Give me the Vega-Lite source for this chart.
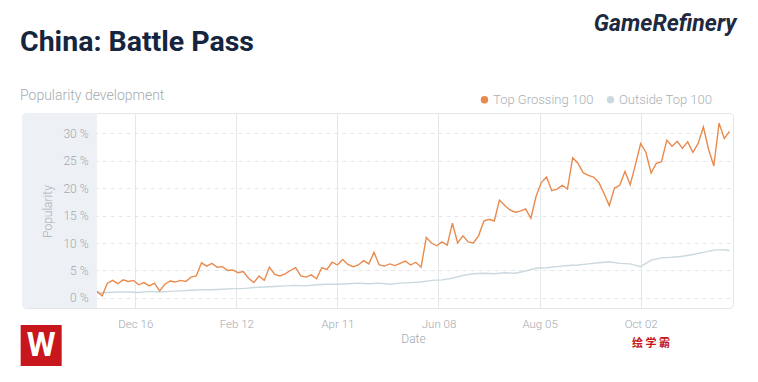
{
  "$schema": "https://vega.github.io/schema/vega-lite/v6.json",
  "width": 711,
  "height": 195,
  "autosize": {"type": "none"},
  "padding": {"left": 22, "top": 113, "right": 25, "bottom": 74},
  "background": "#ffffff",
  "config": {"font": "Roboto", "view": {"stroke": "#e2e6e9", "cornerRadius": 4}},
  "title": {
    "text": "China: Battle Pass",
    "subtitle": "Popularity development",
    "anchor": "start",
    "frame": "group",
    "orient": "top",
    "font": "Roboto",
    "fontSize": 28.5,
    "fontWeight": "bold",
    "color": "#15253e",
    "subtitleFont": "Roboto",
    "subtitleFontSize": 14,
    "subtitleFontWeight": 300,
    "subtitleColor": "#a5abb0",
    "subtitlePadding": 33,
    "offset": 9,
    "dx": -2,
    "dy": 99
  },
  "datasets": {
    "series": [
      {"date": "2018-11-24", "series": "Outside Top 100", "value": 0.9},
      {"date": "2018-11-30", "series": "Outside Top 100", "value": 1.0},
      {"date": "2018-12-06", "series": "Outside Top 100", "value": 1.1},
      {"date": "2018-12-12", "series": "Outside Top 100", "value": 1.1},
      {"date": "2018-12-18", "series": "Outside Top 100", "value": 1.0},
      {"date": "2018-12-24", "series": "Outside Top 100", "value": 1.2},
      {"date": "2018-12-30", "series": "Outside Top 100", "value": 1.1},
      {"date": "2019-01-05", "series": "Outside Top 100", "value": 1.2},
      {"date": "2019-01-11", "series": "Outside Top 100", "value": 1.3},
      {"date": "2019-01-17", "series": "Outside Top 100", "value": 1.4},
      {"date": "2019-01-23", "series": "Outside Top 100", "value": 1.5},
      {"date": "2019-01-29", "series": "Outside Top 100", "value": 1.5},
      {"date": "2019-02-04", "series": "Outside Top 100", "value": 1.6},
      {"date": "2019-02-10", "series": "Outside Top 100", "value": 1.7},
      {"date": "2019-02-16", "series": "Outside Top 100", "value": 1.7},
      {"date": "2019-02-22", "series": "Outside Top 100", "value": 1.9},
      {"date": "2019-02-28", "series": "Outside Top 100", "value": 2.0},
      {"date": "2019-03-06", "series": "Outside Top 100", "value": 2.1},
      {"date": "2019-03-12", "series": "Outside Top 100", "value": 2.2},
      {"date": "2019-03-18", "series": "Outside Top 100", "value": 2.3},
      {"date": "2019-03-24", "series": "Outside Top 100", "value": 2.2},
      {"date": "2019-03-30", "series": "Outside Top 100", "value": 2.4},
      {"date": "2019-04-05", "series": "Outside Top 100", "value": 2.5},
      {"date": "2019-04-11", "series": "Outside Top 100", "value": 2.5},
      {"date": "2019-04-17", "series": "Outside Top 100", "value": 2.6},
      {"date": "2019-04-23", "series": "Outside Top 100", "value": 2.7},
      {"date": "2019-04-29", "series": "Outside Top 100", "value": 2.6},
      {"date": "2019-05-05", "series": "Outside Top 100", "value": 2.7},
      {"date": "2019-05-11", "series": "Outside Top 100", "value": 2.5},
      {"date": "2019-05-17", "series": "Outside Top 100", "value": 2.7},
      {"date": "2019-05-23", "series": "Outside Top 100", "value": 2.8},
      {"date": "2019-05-29", "series": "Outside Top 100", "value": 2.9},
      {"date": "2019-06-04", "series": "Outside Top 100", "value": 3.2},
      {"date": "2019-06-10", "series": "Outside Top 100", "value": 3.3},
      {"date": "2019-06-16", "series": "Outside Top 100", "value": 3.6},
      {"date": "2019-06-22", "series": "Outside Top 100", "value": 4.1},
      {"date": "2019-06-28", "series": "Outside Top 100", "value": 4.4},
      {"date": "2019-07-04", "series": "Outside Top 100", "value": 4.5},
      {"date": "2019-07-10", "series": "Outside Top 100", "value": 4.4},
      {"date": "2019-07-16", "series": "Outside Top 100", "value": 4.6},
      {"date": "2019-07-22", "series": "Outside Top 100", "value": 4.5},
      {"date": "2019-07-28", "series": "Outside Top 100", "value": 4.9},
      {"date": "2019-08-03", "series": "Outside Top 100", "value": 5.4},
      {"date": "2019-08-09", "series": "Outside Top 100", "value": 5.5},
      {"date": "2019-08-15", "series": "Outside Top 100", "value": 5.7},
      {"date": "2019-08-21", "series": "Outside Top 100", "value": 5.9},
      {"date": "2019-08-27", "series": "Outside Top 100", "value": 6.0},
      {"date": "2019-09-02", "series": "Outside Top 100", "value": 6.2},
      {"date": "2019-09-08", "series": "Outside Top 100", "value": 6.4},
      {"date": "2019-09-14", "series": "Outside Top 100", "value": 6.6},
      {"date": "2019-09-20", "series": "Outside Top 100", "value": 6.3},
      {"date": "2019-09-26", "series": "Outside Top 100", "value": 6.2},
      {"date": "2019-10-02", "series": "Outside Top 100", "value": 5.7},
      {"date": "2019-10-08", "series": "Outside Top 100", "value": 6.9},
      {"date": "2019-10-14", "series": "Outside Top 100", "value": 7.3},
      {"date": "2019-10-20", "series": "Outside Top 100", "value": 7.4},
      {"date": "2019-10-26", "series": "Outside Top 100", "value": 7.6},
      {"date": "2019-11-01", "series": "Outside Top 100", "value": 7.9},
      {"date": "2019-11-07", "series": "Outside Top 100", "value": 8.3},
      {"date": "2019-11-13", "series": "Outside Top 100", "value": 8.7},
      {"date": "2019-11-19", "series": "Outside Top 100", "value": 8.8},
      {"date": "2019-11-22", "series": "Outside Top 100", "value": 8.6},
      {"date": "2018-11-24", "series": "Top Grossing 100", "value": 1.2},
      {"date": "2018-11-27", "series": "Top Grossing 100", "value": 0.4},
      {"date": "2018-11-30", "series": "Top Grossing 100", "value": 2.7},
      {"date": "2018-12-03", "series": "Top Grossing 100", "value": 3.2},
      {"date": "2018-12-06", "series": "Top Grossing 100", "value": 2.6},
      {"date": "2018-12-09", "series": "Top Grossing 100", "value": 3.3},
      {"date": "2018-12-12", "series": "Top Grossing 100", "value": 3.0},
      {"date": "2018-12-15", "series": "Top Grossing 100", "value": 3.2},
      {"date": "2018-12-18", "series": "Top Grossing 100", "value": 2.4},
      {"date": "2018-12-21", "series": "Top Grossing 100", "value": 2.8},
      {"date": "2018-12-24", "series": "Top Grossing 100", "value": 2.2},
      {"date": "2018-12-27", "series": "Top Grossing 100", "value": 2.7},
      {"date": "2018-12-30", "series": "Top Grossing 100", "value": 1.3},
      {"date": "2019-01-02", "series": "Top Grossing 100", "value": 2.5},
      {"date": "2019-01-05", "series": "Top Grossing 100", "value": 3.1},
      {"date": "2019-01-08", "series": "Top Grossing 100", "value": 2.9},
      {"date": "2019-01-11", "series": "Top Grossing 100", "value": 3.2},
      {"date": "2019-01-14", "series": "Top Grossing 100", "value": 3.0},
      {"date": "2019-01-17", "series": "Top Grossing 100", "value": 3.8},
      {"date": "2019-01-20", "series": "Top Grossing 100", "value": 4.0},
      {"date": "2019-01-23", "series": "Top Grossing 100", "value": 6.4},
      {"date": "2019-01-26", "series": "Top Grossing 100", "value": 5.8},
      {"date": "2019-01-29", "series": "Top Grossing 100", "value": 6.3},
      {"date": "2019-02-01", "series": "Top Grossing 100", "value": 5.6},
      {"date": "2019-02-04", "series": "Top Grossing 100", "value": 5.7},
      {"date": "2019-02-07", "series": "Top Grossing 100", "value": 5.0},
      {"date": "2019-02-10", "series": "Top Grossing 100", "value": 5.1},
      {"date": "2019-02-13", "series": "Top Grossing 100", "value": 4.6},
      {"date": "2019-02-16", "series": "Top Grossing 100", "value": 4.8},
      {"date": "2019-02-19", "series": "Top Grossing 100", "value": 3.6},
      {"date": "2019-02-22", "series": "Top Grossing 100", "value": 2.8},
      {"date": "2019-02-25", "series": "Top Grossing 100", "value": 4.0},
      {"date": "2019-02-28", "series": "Top Grossing 100", "value": 3.2},
      {"date": "2019-03-03", "series": "Top Grossing 100", "value": 5.6},
      {"date": "2019-03-06", "series": "Top Grossing 100", "value": 4.3},
      {"date": "2019-03-09", "series": "Top Grossing 100", "value": 4.0},
      {"date": "2019-03-12", "series": "Top Grossing 100", "value": 4.4},
      {"date": "2019-03-15", "series": "Top Grossing 100", "value": 5.0},
      {"date": "2019-03-18", "series": "Top Grossing 100", "value": 5.5},
      {"date": "2019-03-21", "series": "Top Grossing 100", "value": 4.0},
      {"date": "2019-03-24", "series": "Top Grossing 100", "value": 3.8},
      {"date": "2019-03-27", "series": "Top Grossing 100", "value": 4.2},
      {"date": "2019-03-30", "series": "Top Grossing 100", "value": 3.5},
      {"date": "2019-04-02", "series": "Top Grossing 100", "value": 5.5},
      {"date": "2019-04-05", "series": "Top Grossing 100", "value": 5.2},
      {"date": "2019-04-08", "series": "Top Grossing 100", "value": 6.5},
      {"date": "2019-04-11", "series": "Top Grossing 100", "value": 6.0},
      {"date": "2019-04-14", "series": "Top Grossing 100", "value": 7.0},
      {"date": "2019-04-17", "series": "Top Grossing 100", "value": 6.1},
      {"date": "2019-04-20", "series": "Top Grossing 100", "value": 5.7},
      {"date": "2019-04-23", "series": "Top Grossing 100", "value": 6.0},
      {"date": "2019-04-26", "series": "Top Grossing 100", "value": 6.8},
      {"date": "2019-04-29", "series": "Top Grossing 100", "value": 6.2},
      {"date": "2019-05-02", "series": "Top Grossing 100", "value": 8.3},
      {"date": "2019-05-05", "series": "Top Grossing 100", "value": 6.0},
      {"date": "2019-05-08", "series": "Top Grossing 100", "value": 5.8},
      {"date": "2019-05-11", "series": "Top Grossing 100", "value": 6.2},
      {"date": "2019-05-14", "series": "Top Grossing 100", "value": 5.9},
      {"date": "2019-05-17", "series": "Top Grossing 100", "value": 6.3},
      {"date": "2019-05-20", "series": "Top Grossing 100", "value": 6.7},
      {"date": "2019-05-23", "series": "Top Grossing 100", "value": 6.0},
      {"date": "2019-05-26", "series": "Top Grossing 100", "value": 6.5},
      {"date": "2019-05-29", "series": "Top Grossing 100", "value": 5.6},
      {"date": "2019-06-01", "series": "Top Grossing 100", "value": 11.0},
      {"date": "2019-06-04", "series": "Top Grossing 100", "value": 10.0},
      {"date": "2019-06-07", "series": "Top Grossing 100", "value": 9.5},
      {"date": "2019-06-10", "series": "Top Grossing 100", "value": 10.2},
      {"date": "2019-06-13", "series": "Top Grossing 100", "value": 9.6},
      {"date": "2019-06-16", "series": "Top Grossing 100", "value": 13.6},
      {"date": "2019-06-19", "series": "Top Grossing 100", "value": 10.0},
      {"date": "2019-06-22", "series": "Top Grossing 100", "value": 11.3},
      {"date": "2019-06-25", "series": "Top Grossing 100", "value": 10.2},
      {"date": "2019-06-28", "series": "Top Grossing 100", "value": 10.0},
      {"date": "2019-07-01", "series": "Top Grossing 100", "value": 11.3},
      {"date": "2019-07-04", "series": "Top Grossing 100", "value": 14.0},
      {"date": "2019-07-07", "series": "Top Grossing 100", "value": 14.3},
      {"date": "2019-07-10", "series": "Top Grossing 100", "value": 14.0},
      {"date": "2019-07-13", "series": "Top Grossing 100", "value": 17.8},
      {"date": "2019-07-16", "series": "Top Grossing 100", "value": 16.8},
      {"date": "2019-07-19", "series": "Top Grossing 100", "value": 16.0},
      {"date": "2019-07-22", "series": "Top Grossing 100", "value": 15.6},
      {"date": "2019-07-25", "series": "Top Grossing 100", "value": 15.8},
      {"date": "2019-07-28", "series": "Top Grossing 100", "value": 16.2},
      {"date": "2019-07-31", "series": "Top Grossing 100", "value": 14.5},
      {"date": "2019-08-03", "series": "Top Grossing 100", "value": 18.5},
      {"date": "2019-08-06", "series": "Top Grossing 100", "value": 21.0},
      {"date": "2019-08-09", "series": "Top Grossing 100", "value": 22.0},
      {"date": "2019-08-12", "series": "Top Grossing 100", "value": 19.5},
      {"date": "2019-08-15", "series": "Top Grossing 100", "value": 19.8},
      {"date": "2019-08-18", "series": "Top Grossing 100", "value": 20.5},
      {"date": "2019-08-21", "series": "Top Grossing 100", "value": 19.8},
      {"date": "2019-08-24", "series": "Top Grossing 100", "value": 25.5},
      {"date": "2019-08-27", "series": "Top Grossing 100", "value": 24.5},
      {"date": "2019-08-30", "series": "Top Grossing 100", "value": 22.8},
      {"date": "2019-09-02", "series": "Top Grossing 100", "value": 22.3},
      {"date": "2019-09-05", "series": "Top Grossing 100", "value": 22.0},
      {"date": "2019-09-08", "series": "Top Grossing 100", "value": 21.0},
      {"date": "2019-09-11", "series": "Top Grossing 100", "value": 19.0},
      {"date": "2019-09-14", "series": "Top Grossing 100", "value": 16.8},
      {"date": "2019-09-17", "series": "Top Grossing 100", "value": 20.0},
      {"date": "2019-09-20", "series": "Top Grossing 100", "value": 20.5},
      {"date": "2019-09-23", "series": "Top Grossing 100", "value": 23.0},
      {"date": "2019-09-26", "series": "Top Grossing 100", "value": 20.6},
      {"date": "2019-09-29", "series": "Top Grossing 100", "value": 24.2},
      {"date": "2019-10-02", "series": "Top Grossing 100", "value": 28.1},
      {"date": "2019-10-05", "series": "Top Grossing 100", "value": 26.5},
      {"date": "2019-10-08", "series": "Top Grossing 100", "value": 22.7},
      {"date": "2019-10-11", "series": "Top Grossing 100", "value": 24.5},
      {"date": "2019-10-14", "series": "Top Grossing 100", "value": 24.8},
      {"date": "2019-10-17", "series": "Top Grossing 100", "value": 28.7},
      {"date": "2019-10-20", "series": "Top Grossing 100", "value": 27.6},
      {"date": "2019-10-23", "series": "Top Grossing 100", "value": 28.5},
      {"date": "2019-10-26", "series": "Top Grossing 100", "value": 27.2},
      {"date": "2019-10-29", "series": "Top Grossing 100", "value": 28.4},
      {"date": "2019-11-01", "series": "Top Grossing 100", "value": 26.5},
      {"date": "2019-11-04", "series": "Top Grossing 100", "value": 28.1},
      {"date": "2019-11-07", "series": "Top Grossing 100", "value": 31.1},
      {"date": "2019-11-10", "series": "Top Grossing 100", "value": 27.0},
      {"date": "2019-11-13", "series": "Top Grossing 100", "value": 24.0},
      {"date": "2019-11-16", "series": "Top Grossing 100", "value": 31.8},
      {"date": "2019-11-19", "series": "Top Grossing 100", "value": 29.0},
      {"date": "2019-11-22", "series": "Top Grossing 100", "value": 30.3}
    ]
  },
  "layer": [
    {
      "data": {"name": "series"},
      "layer": [
        {
          "transform": [{"filter": "datum.series === 'Outside Top 100'"}],
          "mark": {"type": "line", "strokeWidth": 1.4}
        },
        {
          "transform": [{"filter": "datum.series === 'Top Grossing 100'"}],
          "mark": {"type": "line", "strokeWidth": 1.4}
        }
      ],
      "encoding": {
        "x": {
          "field": "date",
          "type": "temporal",
          "scale": {"type": "utc", "nice": false, "domain": [{"year": 2018, "month": 10, "date": 12, "utc": true}, {"year": 2019, "month": 11, "date": 24, "utc": true}]},
          "axis": {
            "values": [
              {"year": 2018, "month": 12, "date": 16, "utc": true},
              {"year": 2019, "month": 2, "date": 12, "utc": true},
              {"year": 2019, "month": 4, "date": 11, "utc": true},
              {"year": 2019, "month": 6, "date": 8, "utc": true},
              {"year": 2019, "month": 8, "date": 5, "utc": true},
              {"year": 2019, "month": 10, "date": 2, "utc": true}
            ],
            "format": "%b %d",
            "grid": true,
            "gridColor": "#e4e7ea",
            "domain": false,
            "ticks": false,
            "labelColor": "#a2a9af",
            "labelFontSize": 11.5,
            "labelFontWeight": 300,
            "labelPadding": 16,
            "labelBaseline": "middle",
            "title": "Date",
            "titleColor": "#a2a9af",
            "titleFontSize": 12,
            "titleFontWeight": 300,
            "titleX": 391,
            "titleY": 30,
            "titleBaseline": "middle"
          }
        },
        "y": {
          "field": "value",
          "type": "quantitative",
          "scale": {"domain": [-1.82, 33.64], "nice": false, "zero": false},
          "axis": {
            "orient": "left",
            "values": [0, 5, 10, 15, 20, 25, 30],
            "grid": true,
            "gridDash": [4, 4],
            "gridColor": "#e4e7ea",
            "labels": false,
            "ticks": false,
            "domain": false,
            "title": null,
            "zindex": 0
          }
        },
        "color": {
          "field": "series",
          "type": "nominal",
          "scale": {"domain": ["Top Grossing 100", "Outside Top 100"], "range": ["#e98a4d", "#cbd9df"]},
          "legend": {
            "orient": "none",
            "legendX": 456,
            "legendY": -20,
            "direction": "horizontal",
            "title": null,
            "symbolType": "circle",
            "symbolSize": 55,
            "labelFontSize": 13,
            "labelFontWeight": 300,
            "labelColor": "#a9b0b5",
            "labelOffset": 2,
            "columnPadding": 10,
            "encode": {"symbols": {"update": {"fill": {"scale": "color", "field": "value"}, "strokeWidth": {"value": 0}, "opacity": {"value": 1}}}}
          }
        }
      }
    },
    {
      "data": {"values": [{"band": "y-axis"}]},
      "mark": {"type": "rect", "fill": "#edf1f5", "cornerRadiusTopLeft": 4, "cornerRadiusBottomLeft": 4},
      "encoding": {
        "x": {"datum": {"year": 2018, "month": 10, "date": 12, "utc": true}, "type": "temporal", "scale": {"type": "utc", "nice": false, "domain": [{"year": 2018, "month": 10, "date": 12, "utc": true}, {"year": 2019, "month": 11, "date": 24, "utc": true}]}},
        "x2": {"datum": {"year": 2018, "month": 11, "date": 24, "utc": true}},
        "y": {
          "datum": -1.82,
          "type": "quantitative",
          "scale": {"domain": [-1.82, 33.64], "nice": false, "zero": false},
          "axis": {
            "orient": "left",
            "values": [0, 5, 10, 15, 20, 25, 30],
            "labelExpr": "datum.value + ' %'",
            "grid": false,
            "ticks": false,
            "domain": false,
            "labelPadding": -66,
            "labelColor": "#a2a9af",
            "labelFontSize": 12,
            "labelFontWeight": 300,
            "title": "Popularity",
            "titleColor": "#a9b0b5",
            "titleFontSize": 12,
            "titleFontWeight": 300,
            "titleX": 25,
            "titleY": 98,
            "titleAngle": 270,
            "titleAlign": "center",
            "titleBaseline": "middle",
            "zindex": 1
          }
        },
        "y2": {"datum": 33.64}
      }
    },
    {
      "data": {"values": [{"label": "GameRefinery"}]},
      "mark": {"type": "text", "font": "Roboto", "fontSize": 23, "fontWeight": "bold", "fontStyle": "italic", "color": "#1d2a3f", "align": "right", "baseline": "alphabetic"},
      "encoding": {
        "text": {"field": "label", "type": "nominal"},
        "x": {"datum": {"year": 2019, "month": 11, "date": 26, "utc": true}, "type": "temporal", "scale": {"type": "utc", "nice": false, "domain": [{"year": 2018, "month": 10, "date": 12, "utc": true}, {"year": 2019, "month": 11, "date": 24, "utc": true}]}},
        "y": {"datum": 48.55, "type": "quantitative", "scale": {"domain": [-1.82, 33.64], "nice": false, "zero": false}, "axis": null}
      }
    },
    {
      "data": {"values": [{"label": "绘 学 霸"}]},
      "mark": {"type": "text", "font": "Noto Sans CJK SC", "fontSize": 11, "fontWeight": "bold", "color": "#c4161c", "align": "center", "baseline": "middle"},
      "encoding": {
        "text": {"field": "label", "type": "nominal"},
        "x": {"datum": {"year": 2019, "month": 10, "date": 8, "utc": true}, "type": "temporal", "scale": {"type": "utc", "nice": false, "domain": [{"year": 2018, "month": 10, "date": 12, "utc": true}, {"year": 2019, "month": 11, "date": 24, "utc": true}]}},
        "y": {"datum": -8.45, "type": "quantitative", "scale": {"domain": [-1.82, 33.64], "nice": false, "zero": false}, "axis": null}
      }
    },
    {
      "data": {"values": [{"label": "logo"}]},
      "mark": {"type": "point", "shape": "square", "filled": true, "size": 1681, "color": "#c8161d", "opacity": 1},
      "encoding": {
        "x": {"datum": {"year": 2018, "month": 10, "date": 23, "utc": true}, "type": "temporal", "scale": {"type": "utc", "nice": false, "domain": [{"year": 2018, "month": 10, "date": 12, "utc": true}, {"year": 2019, "month": 11, "date": 24, "utc": true}]}},
        "y": {"datum": -8.64, "type": "quantitative", "scale": {"domain": [-1.82, 33.64], "nice": false, "zero": false}, "axis": null}
      }
    },
    {
      "data": {"values": [{"label": "W"}]},
      "mark": {"type": "text", "font": "Roboto", "fontSize": 33, "fontWeight": "bold", "color": "#ffffff", "align": "center", "baseline": "middle"},
      "encoding": {
        "text": {"field": "label", "type": "nominal"},
        "x": {"datum": {"year": 2018, "month": 10, "date": 23, "utc": true}, "type": "temporal", "scale": {"type": "utc", "nice": false, "domain": [{"year": 2018, "month": 10, "date": 12, "utc": true}, {"year": 2019, "month": 11, "date": 24, "utc": true}]}},
        "y": {"datum": -8.64, "type": "quantitative", "scale": {"domain": [-1.82, 33.64], "nice": false, "zero": false}, "axis": null}
      }
    }
  ],
  "resolve": {"axis": {"y": "independent"}}
}
